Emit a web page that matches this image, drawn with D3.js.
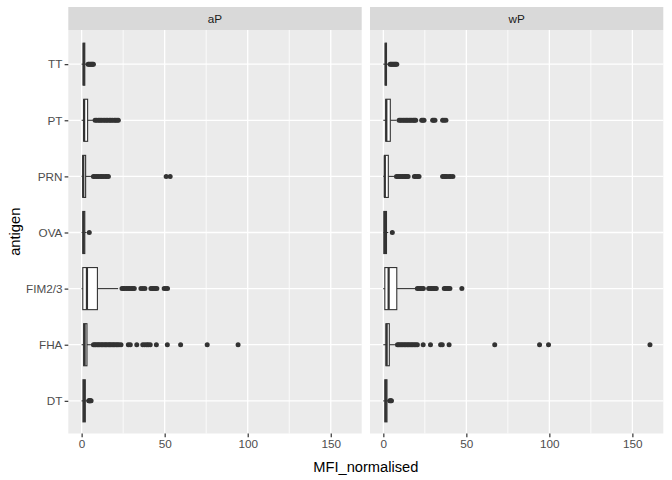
<!DOCTYPE html>
<html><head><meta charset="utf-8">
<script src="https://cdn.jsdelivr.net/npm/d3@7"></script>
<style>body{margin:0;background:#fff}</style>
</head><body>
<svg id="c" width="672" height="480"></svg>
<script>
// ---- data ----
const antigens = ["DT","FHA","FIM2/3","OVA","PRN","PT","TT"];
const facets = ["aP","wP"];
const xTicks = [0,50,100,150];
const xMinorTicks = [25,75,125];

// order follows antigens
const aP_q1  = [0.8, 1.2, 0.7, 0.7, 0.7, 1.3, 0.9];
const aP_med = [1.5, 1.8, 3.2, 1.2, 1.0, 1.5, 1.3];
const aP_q3  = [2.2, 3.2, 9.5, 1.9, 2.4, 3.6, 1.9];
const aP_lo  = [0, 0, 0, 0, 0, 0, 0];
const aP_hi  = [3.9, 5.6, 22.0, 3.0, 5.6, 6.8, 3.5];
const aP_out = [
  [4.3, 4.6, 4.9, 5.3, 5.7],
  [7.1, 7.9, 8.6, 9.5, 10.2, 11.0, 11.9, 12.6, 13.5, 14.3, 15.0, 15.9, 16.7, 17.4, 18.3, 19.1, 19.9, 20.8, 21.6, 22.5, 23.7, 28.1, 29.3, 33.2, 36.8, 38.0, 39.2, 40.1, 41.3, 45.0, 51.6, 59.6, 75.6, 94.2],
  [24.3, 25.2, 26.0, 27.1, 28.0, 28.8, 29.9, 30.8, 31.7, 35.7, 36.9, 38.1, 41.7, 42.6, 43.5, 44.4, 45.3, 49.7, 50.8, 51.7],
  [4.6],
  [7.1, 8.0, 9.1, 10.0, 11.2, 12.1, 13.0, 14.2, 15.1, 16.1, 50.9, 53.3],
  [8.1, 9.0, 10.1, 11.0, 11.8, 12.9, 13.9, 14.8, 15.7, 16.8, 17.6, 18.5, 19.6, 20.4, 21.3, 22.1],
  [3.9, 4.4, 5.0, 5.6, 6.1, 6.6, 7.1]
];

const wP_q1  = [0.9, 1.6, 0.9, 0.3, 0.7, 1.5, 1.1];
const wP_med = [1.5, 2.0, 3.2, 1.0, 0.9, 1.8, 1.5];
const wP_q3  = [2.2, 3.6, 8.1, 1.9, 3.0, 4.2, 1.9];
const wP_lo  = [0, 0, 0, 0, 0, 0, 0];
const wP_hi  = [3.5, 7.0, 19.6, 3.0, 6.4, 8.0, 3.5];
const wP_out = [
  [3.9, 4.4, 4.9],
  [8.5, 9.3, 10.1, 11.0, 11.8, 12.7, 13.5, 14.4, 15.2, 16.1, 17.0, 17.8, 18.7, 19.6, 20.5, 24.0, 28.4, 34.5, 35.5, 39.6, 67.1, 94.1, 99.5, 160.6],
  [20.5, 21.4, 22.3, 23.2, 24.1, 27.3, 28.2, 29.1, 30.0, 31.0, 31.9, 36.7, 37.5, 38.4, 39.2, 40.1, 47.3],
  [5.4],
  [7.9, 8.8, 9.7, 10.6, 11.6, 12.5, 13.3, 14.1, 14.9, 18.7, 19.6, 20.6, 21.5, 35.7, 36.6, 37.5, 38.3, 39.6, 40.6, 41.9],
  [9.5, 10.3, 11.2, 12.1, 13.0, 13.8, 14.6, 15.5, 16.3, 17.2, 18.1, 18.8, 19.5, 23.1, 23.8, 24.5, 29.7, 30.4, 31.1, 35.7, 36.6, 37.7],
  [4.1, 4.6, 5.2, 5.8, 6.4, 7.0, 7.5, 8.1]
];

// ---- build table ----
const stats = {
  aP: {q1: aP_q1, med: aP_med, q3: aP_q3, lo: aP_lo, hi: aP_hi, out: aP_out},
  wP: {q1: wP_q1, med: wP_med, q3: wP_q3, lo: wP_lo, hi: wP_hi, out: wP_out}
};
const rows = [];
facets.forEach(f => antigens.forEach((a, i) => {
  const s = stats[f];
  rows.push({facet: f, antigen: a, q1: s.q1[i], med: s.med[i], q3: s.q3[i], lo: s.lo[i], hi: s.hi[i], out: s.out[i]});
}));

// ---- layout ----
const font = "'Liberation Sans', Arial, Helvetica, sans-serif";
const panelTop = 30, panelBottom = 433.5, stripTop = 7;
const panels = [{x0: 68.3, x1: 361.7}, {x0: 370, x1: 663.3}];

const allVals = rows.flatMap(r => [r.lo, r.hi, r.q1, r.q3, ...r.out]);
const ext = d3.extent(allVals);
const pad = (ext[1] - ext[0]) * 0.05;
const xDomain = [ext[0] - pad, ext[1] + pad];

const y = d3.scalePoint().domain(antigens).range([434.5, 30.5]).padding(0.6);
const boxH = y.step() * 0.75;

const svg = d3.select("#c");
svg.append("rect").attr("width", 672).attr("height", 480).attr("fill", "#fff");

facets.forEach((f, fi) => {
  const P = panels[fi];
  const x = d3.scaleLinear().domain(xDomain).range([P.x0, P.x1]);
  const g = svg.append("g");

  // strip
  g.append("rect").attr("x", P.x0).attr("y", stripTop).attr("width", P.x1 - P.x0)
    .attr("height", panelTop - stripTop).attr("fill", "#D9D9D9");
  g.append("text").attr("x", (P.x0 + P.x1) / 2).attr("y", (stripTop + panelTop) / 2)
    .attr("dy", "0.36em").attr("text-anchor", "middle").attr("font-family", font)
    .attr("font-size", 11.73).attr("fill", "#1A1A1A").text(f);

  // panel
  g.append("rect").attr("x", P.x0).attr("y", panelTop).attr("width", P.x1 - P.x0)
    .attr("height", panelBottom - panelTop).attr("fill", "#EBEBEB");

  // grid
  g.selectAll(".minor").data(xMinorTicks).join("line")
    .attr("x1", d => x(d)).attr("x2", d => x(d)).attr("y1", panelTop).attr("y2", panelBottom)
    .attr("stroke", "#fff").attr("stroke-width", 0.8);
  g.selectAll(".majx").data(xTicks).join("line")
    .attr("x1", d => x(d)).attr("x2", d => x(d)).attr("y1", panelTop).attr("y2", panelBottom)
    .attr("stroke", "#fff").attr("stroke-width", 1.3);
  g.selectAll(".majy").data(antigens).join("line")
    .attr("x1", P.x0).attr("x2", P.x1).attr("y1", d => y(d)).attr("y2", d => y(d))
    .attr("stroke", "#fff").attr("stroke-width", 1.3);

  // x axis
  const xa = g.append("g").attr("transform", `translate(0,${panelBottom})`)
    .call(d3.axisBottom(x).tickValues(xTicks).tickSize(3.67).tickPadding(2.2).tickFormat(d3.format("d")));
  xa.select(".domain").remove();
  xa.selectAll(".tick line").attr("stroke", "#333333").attr("stroke-width", 1.2);
  xa.selectAll(".tick text").attr("font-family", font).attr("font-size", 11.73).attr("fill", "#4D4D4D");

  if (fi === 0) {
    const ya = g.append("g").attr("transform", `translate(${P.x0},0)`)
      .call(d3.axisLeft(y).tickSize(3.67).tickPadding(2.2));
    ya.select(".domain").remove();
    ya.selectAll(".tick line").attr("stroke", "#333333").attr("stroke-width", 1.2);
    ya.selectAll(".tick text").attr("font-family", font).attr("font-size", 11.73).attr("fill", "#4D4D4D");
  }

  // boxplots
  const data = rows.filter(r => r.facet === f);
  data.forEach(r => {
    const cy = y(r.antigen);
    const bg = g.append("g");
    bg.selectAll("circle").data(r.out).join("circle")
      .attr("cx", d => x(d)).attr("cy", cy).attr("r", 2.5).attr("fill", "#333333");
    bg.append("line").attr("x1", x(r.lo)).attr("x2", x(r.q1)).attr("y1", cy).attr("y2", cy)
      .attr("stroke", "#333333").attr("stroke-width", 1.1);
    bg.append("line").attr("x1", x(r.q3)).attr("x2", x(r.hi)).attr("y1", cy).attr("y2", cy)
      .attr("stroke", "#333333").attr("stroke-width", 1.1);
    bg.append("rect").attr("x", x(r.q1)).attr("y", cy - boxH / 2)
      .attr("width", x(r.q3) - x(r.q1)).attr("height", boxH)
      .attr("fill", "#fff").attr("stroke", "#333333").attr("stroke-width", 1.1);
    bg.append("line").attr("x1", x(r.med)).attr("x2", x(r.med))
      .attr("y1", cy - boxH / 2).attr("y2", cy + boxH / 2)
      .attr("stroke", "#333333").attr("stroke-width", 2.2);
  });
});

// axis titles
svg.append("text").attr("x", (panels[0].x0 + panels[1].x1) / 2).attr("y", 471.5)
  .attr("text-anchor", "middle").attr("font-family", font).attr("font-size", 14.67)
  .attr("fill", "#000").text("MFI_normalised");
svg.append("text").attr("transform", `translate(20.3,${(panelTop + panelBottom) / 2}) rotate(-90)`)
  .attr("text-anchor", "middle").attr("font-family", font).attr("font-size", 14.67)
  .attr("fill", "#000").text("antigen");
</script>
</body></html>
